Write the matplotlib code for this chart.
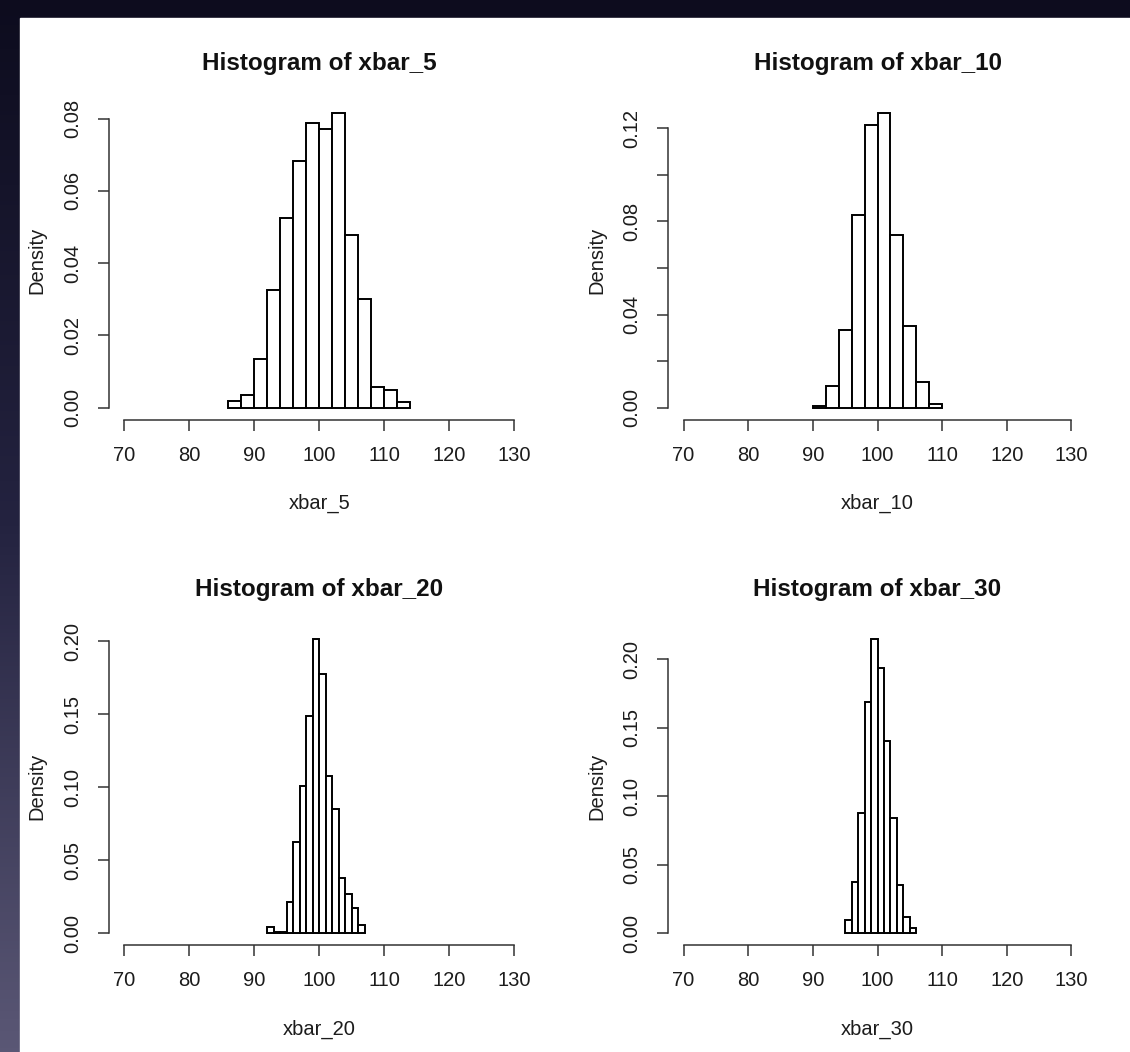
import numpy as np
import matplotlib.pyplot as plt
from matplotlib.patches import Rectangle
from matplotlib.colors import LinearSegmentedColormap

plt.rcParams['font.family'] = ['Liberation Sans', 'DejaVu Sans']

# bin starts and densities
bins_5 = [86, 88, 90, 92, 94, 96, 98, 100, 102, 104, 106, 108, 110, 112]
dens_5 = [0.0019, 0.0035, 0.0134, 0.0326, 0.0525, 0.0684, 0.0788,
          0.0772, 0.0816, 0.0479, 0.0300, 0.0057, 0.0048, 0.0016]

bins_10 = [90, 92, 94, 96, 98, 100, 102, 104, 106, 108]
dens_10 = [0.0007, 0.0093, 0.0335, 0.0826, 0.1214, 0.1267, 0.0740,
           0.0352, 0.0112, 0.0016]

bins_20 = [92, 93, 94, 95, 96, 97, 98, 99, 100, 101, 102, 103, 104, 105, 106]
dens_20 = [0.0045, 0.0010, 0.0010, 0.0216, 0.0625, 0.1010, 0.1490, 0.2018,
           0.1780, 0.1075, 0.0852, 0.0380, 0.0270, 0.0170, 0.0057]

bins_30 = [95, 96, 97, 98, 99, 100, 101, 102, 103, 104, 105]
dens_30 = [0.0094, 0.0374, 0.0880, 0.1690, 0.2150, 0.1933, 0.1400,
           0.0844, 0.0349, 0.0119, 0.0035]

names = ['xbar_5', 'xbar_10', 'xbar_20', 'xbar_30']
widths = [2, 2, 1, 1]
yticks = [np.arange(0, 0.081, 0.02), np.arange(0, 0.121, 0.02),
          np.arange(0, 0.201, 0.05), np.arange(0, 0.201, 0.05)]
ylabel_every = [1, 2, 1, 1]
xticks = [70, 80, 90, 100, 110, 120, 130]

W, H = 1130, 1052
fig = plt.figure(figsize=(W / 100, H / 100), dpi=100)
fig.patch.set_facecolor('#0d0c1e')

# screenshot frame: dark border with a gradient strip on the left
bg = fig.add_axes([0, 0, 1, 1], zorder=-10)
bg.set_axis_off()
grad = np.linspace(0, 1, 256).reshape(-1, 1)
cmap = LinearSegmentedColormap.from_list('edge', ['#0d0c1e', '#242340', '#5a5775'])
bg.imshow(grad, extent=(0, 20, H, 0), cmap=cmap, aspect='auto')
bg.add_patch(Rectangle((20, 18), W - 20, H - 18, color='white'))
bg.set_xlim(0, W)
bg.set_ylim(H, 0)

# plot regions in pixels: (left, right, top, bottom)
boxes = [(108.5, 530, 101, 419.5), (668, 1087, 101, 419.5),
         (108.5, 530, 627, 945), (668, 1087, 627, 945)]

data = [(bins_5, dens_5), (bins_10, dens_10), (bins_20, dens_20), (bins_30, dens_30)]
ink = '#1c1c1c'

for i, (b, d) in enumerate(data):
    l, r, t, bt = boxes[i]
    ax = fig.add_axes([l / W, 1 - bt / H, (r - l) / W, (bt - t) / H])
    ax.patch.set_alpha(0)
    ax.bar(b, d, width=widths[i], align='edge', facecolor='white',
           edgecolor='black', linewidth=1.4)
    m = max(d)
    ax.set_xlim(70 - 2.4, 130 + 2.4)
    ax.set_ylim(-0.04 * m, 1.04 * m)
    for s in ['top', 'right']:
        ax.spines[s].set_visible(False)
    ax.spines['left'].set_bounds(0, yticks[i][-1])
    ax.spines['bottom'].set_bounds(70, 130)
    for s in ['left', 'bottom']:
        ax.spines[s].set_color('#333333')
        ax.spines[s].set_linewidth(1.1)
    ax.set_xticks(xticks)
    ax.set_yticks(yticks[i])
    ax.set_yticklabels([f'{v:.2f}' if k % ylabel_every[i] == 0 else ''
                        for k, v in enumerate(yticks[i])])
    ax.tick_params(axis='both', length=8, width=1.1, color='#333333',
                   labelsize=14.5, labelcolor=ink)
    ax.tick_params(axis='x', pad=11)
    ax.tick_params(axis='y', pad=11)
    for lab in ax.get_yticklabels():
        lab.set_rotation(90)
        lab.set_va('center')
    ax.set_title('Histogram of ' + names[i], fontsize=17.5, fontweight='bold',
                 color='#111111', pad=22)
    ax.set_xlabel(names[i], fontsize=14.5, color=ink, labelpad=21)
    ax.set_ylabel('Density', fontsize=14.5, color=ink, labelpad=12)

fig.savefig('out.png', dpi=100, facecolor=fig.get_facecolor())
